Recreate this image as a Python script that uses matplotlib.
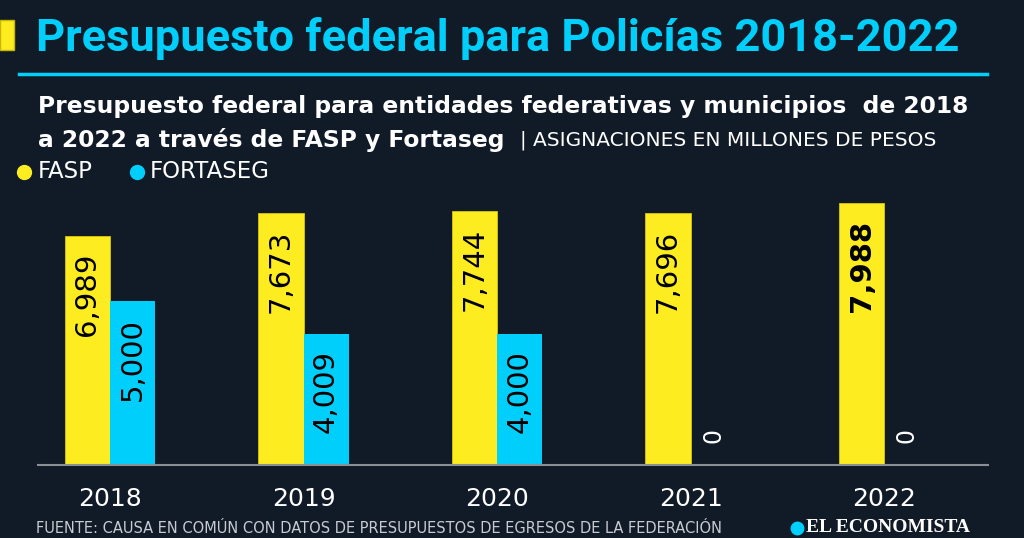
import matplotlib
matplotlib.use("Agg")
import matplotlib.pyplot as plt
from matplotlib.patches import Rectangle
from matplotlib.lines import Line2D

# data
years = ["2018", "2019", "2020", "2021", "2022"]
fasp = [6989, 7673, 7744, 7696, 7988]
fortaseg = [5000, 4009, 4000, 0, 0]

BG = "#111a27"
YELLOW = "#fdec1f"
CYAN = "#00cffc"
W, H = 1024, 538

plt.rcParams['font.family'] = ['DejaVu Sans']

fig = plt.figure(figsize=(W / 100, H / 100), dpi=100, facecolor=BG)


def fx(x):
    return x / W


def fy(y):
    return 1 - y / H


# header
fig.patches.append(Rectangle((fx(0), fy(50)), fx(14), 30 / H, transform=fig.transFigure,
                             facecolor=YELLOW, edgecolor="#c9b800", lw=1))
fig.text(fx(36), fy(39), "Presupuesto federal para Policías 2018-2022", color=CYAN,
         fontsize=32.5, fontweight="bold", family="Roboto", va="center", ha="left")
fig.add_artist(Line2D([fx(19), fx(987)], [fy(74), fy(74)], color=CYAN, lw=2.5))

fig.text(fx(38), fy(106), "Presupuesto federal para entidades federativas y municipios  de 2018",
         color="white", fontsize=16.8, fontweight="bold", va="center", ha="left")
fig.text(fx(38), fy(140), "a 2022 a través de FASP y Fortaseg", color="white",
         fontsize=16.8, fontweight="bold", va="center", ha="left")
fig.text(fx(520), fy(140), "| ASIGNACIONES EN MILLONES DE PESOS", color="white",
         fontsize=14.5, va="center", ha="left")

# legend
fig.add_artist(Line2D([fx(24)], [fy(172)], marker="o", markersize=10, color=YELLOW, lw=0))
fig.text(fx(38), fy(172), "FASP", color="white", fontsize=16.5, va="center", ha="left")
fig.add_artist(Line2D([fx(137)], [fy(172)], marker="o", markersize=10, color=CYAN, lw=0))
fig.text(fx(150), fy(172), "FORTASEG", color="white", fontsize=16.5, va="center", ha="left")

# chart
ax = fig.add_axes([fx(38), fy(465), fx(988) - fx(38), (465 - 200) / H])
ax.set_facecolor(BG)
x = list(range(len(years)))
bw = 0.233
ax.bar([i - bw / 2 for i in x], fasp, width=bw, color=YELLOW, edgecolor="#d8c600", lw=0.6)
ax.bar([i + bw / 2 for i in x], fortaseg, width=bw, color=CYAN)

for i in x:
    ax.annotate(f"{fasp[i]:,}", (i - bw / 2, fasp[i]), xytext=(0, -12), textcoords="offset points",
                rotation=90, ha="center", va="top", fontsize=21, color="black",
                fontweight="bold" if i == 4 else "normal")
    if fortaseg[i] > 0:
        ax.annotate(f"{fortaseg[i]:,}", (i + bw / 2, fortaseg[i]), xytext=(0, -12),
                    textcoords="offset points", rotation=90, ha="center", va="top",
                    fontsize=21, color="black")
    else:
        ax.annotate("0", (i + bw / 2, 0), xytext=(0, 21), textcoords="offset points",
                    rotation=90, ha="center", va="center", fontsize=17, color="white")

ax.set_xlim(-0.372, 4.537)
ax.set_ylim(0, 8080)
ax.set_yticks([])
ax.set_xticks(x)
ax.set_xticklabels(years, color="white", fontsize=18)
ax.tick_params(axis="x", length=0, pad=16)
for s in ["top", "right", "left"]:
    ax.spines[s].set_visible(False)
ax.spines["bottom"].set_color("#8a8f96")
ax.spines["bottom"].set_linewidth(1.5)

# footer
fig.text(fx(36), fy(536), "FUENTE: CAUSA EN COMÚN CON DATOS DE PRESUPUESTOS DE EGRESOS DE LA FEDERACIÓN",
         color="#c8ccd2", fontsize=10.5, va="bottom", ha="left")
fig.add_artist(Line2D([fx(797)], [fy(528)], marker="o", markersize=9, color=CYAN, lw=0))
fig.text(fx(806), fy(536), "EL ECONOMISTA", color="white", fontsize=14, fontweight="bold",
         family="Liberation Serif", va="bottom", ha="left")

fig.savefig("out.png", dpi=100, facecolor=BG)
